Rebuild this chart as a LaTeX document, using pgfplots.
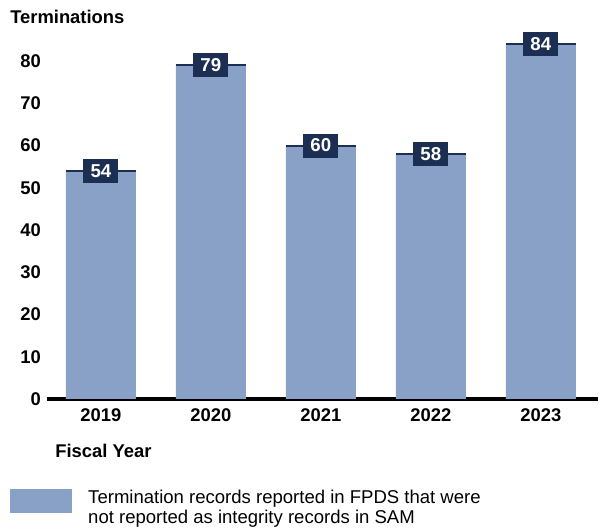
\documentclass[border=0pt]{standalone}
\usepackage{pgfplots}
\pgfplotsset{compat=1.18}
\usepackage{fontspec}
\setmainfont{Liberation Sans}
\definecolor{barblue}{RGB}{137,161,198}
\definecolor{navy}{RGB}{28,47,82}
\begin{document}
\begin{tikzpicture}
\useasboundingbox (0,0) rectangle (450pt,398.25pt);
\begin{axis}[
  at={(35.25pt,99pt)}, anchor=south west,
  scale only axis, width=413.25pt, height=278.85pt,
  xmin=-0.49, xmax=4.52, ymin=0, ymax=88,
  axis lines=left,
  y axis line style={draw=none},
  x axis line style={line width=3pt,-},
  xtick={0,1,2,3,4},
  xticklabels={2019,2020,2021,2022,2023},
  ytick={0,10,20,30,40,50,60,70,80},
  major tick length=0pt,
  /pgf/number format/assume math mode=true,
  tick label style={font=\fontsize{13.8}{16}\selectfont\bfseries},
  xticklabel style={yshift=-4pt},
  yticklabel style={xshift=-1pt},
  clip=false,
  legend style={at={(axis description cs:-0.0672,-0.242)}, anchor=north west,
    draw=none, fill=none, inner sep=0pt,
    nodes={align=left, font=\fontsize{13.9}{15}\selectfont, inner sep=0pt, text depth=0pt},
    column sep=12pt},
  legend cell align=left,
]
\addplot[ybar, bar width=52.5pt, bar shift=0pt, fill=barblue, draw=none,
  area legend,
  legend image code/.code={\fill[barblue] (0pt,-5pt) rectangle (46.5pt,13pt);}]
  coordinates {(0,54) (1,79) (2,60) (3,58) (4,84)};
\addlegendentry{Termination records reported in FPDS that were\\not reported as integrity records in SAM}
\addplot[only marks, mark=-, mark size=26.25pt, mark options={line width=1.5pt, draw=navy},
  forget plot,
  nodes near coords,
  every node near coord/.append style={anchor=center, fill=navy, text=white,
    font=\fontsize{14}{16}\selectfont\bfseries, inner sep=0pt,
    minimum width=26.25pt, minimum height=18pt},
  /pgf/number format/assume math mode=true]
  coordinates {(0,54) (1,79) (2,60) (3,58) (4,84)};
\end{axis}
\node[anchor=west, font=\fontsize{13.8}{16}\selectfont\bfseries, inner sep=0pt] at (7.5pt,385.5pt) {Terminations};
\node[anchor=west, font=\fontsize{13.8}{16}\selectfont\bfseries, inner sep=0pt] at (41.25pt,60pt) {Fiscal Year};
\end{tikzpicture}
\end{document}
